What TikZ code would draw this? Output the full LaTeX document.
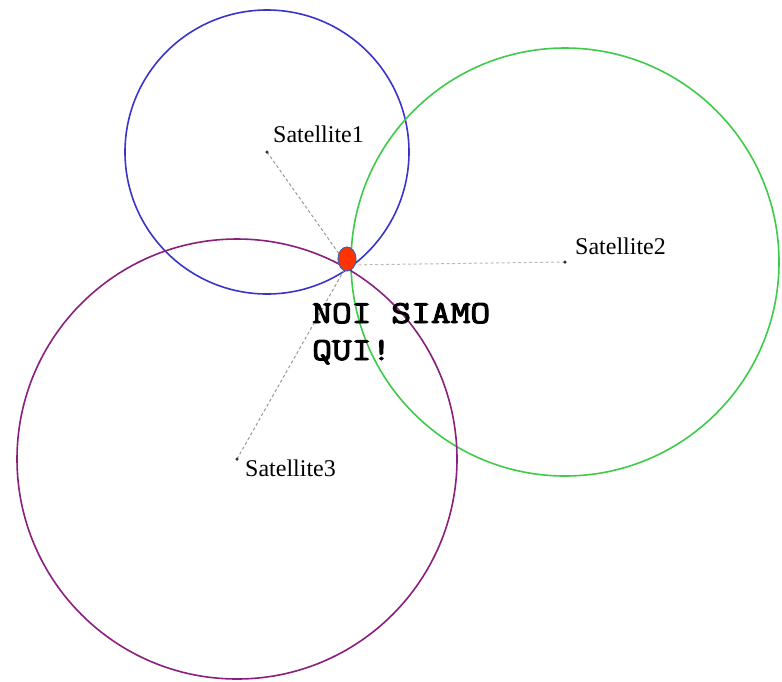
\documentclass[tikz,border=0pt]{standalone}
\usepackage{fontspec}
\setmainfont{Liberation Serif}
\newfontfamily\monob{Latin Modern Mono}[FakeBold=3]
\usetikzlibrary{shapes.geometric}
\definecolor{cblue}{HTML}{3A35C8}
\definecolor{cgreen}{HTML}{3FCB4A}
\definecolor{cpurple}{HTML}{8A1F7E}
\definecolor{dotred}{HTML}{FF3300}
\definecolor{dotedge}{HTML}{3F5FB0}
\newcommand{\heremono}[1]{\scalebox{1.2}[1]{\monob\fontsize{32}{37}\selectfont #1}}
\tikzset{
  orbit/.style={line width=1.6pt},
  satdot/.style={circle,fill=black!80,inner sep=0pt,minimum size=3.5pt},
  satlabel/.style={anchor=base west,inner sep=0pt,font=\fontsize{24}{28}\selectfont},
  rangeline/.style={gray!80,line width=1pt,dash pattern=on 3pt off 2.5pt},
  heretext/.style={anchor=base west,inner sep=0pt}
}
\begin{document}
\begin{tikzpicture}[x=1pt,y=-1pt]
\useasboundingbox (0,0) rectangle (782,681);
\fill[white] (0,0) rectangle (782,681);
% satellites
\coordinate (s1) at (267,152);
\coordinate (s2) at (565,262);
\coordinate (s3) at (237,459);
\coordinate (fix) at (347,265);
% circles
\draw[orbit,cblue] (s1) circle[radius=142];
\draw[orbit,cgreen] (s2) circle[radius=214];
\draw[orbit,cpurple] (s3) circle[radius=220];
% ranges
\draw[rangeline] (s1) -- (fix);
\draw[rangeline,gray!55] (s2) -- (fix);
\draw[rangeline] (s3) -- (fix);
% satellite dots and labels
\node[satdot] (d1) at (s1) {};
\node[satdot] (d2) at (s2) {};
\node[satdot] (d3) at (s3) {};
\node[satlabel] (l1) at (273,142) {Satellite1};
\node[satlabel] (l2) at (575,254) {Satellite2};
\node[satlabel] (l3) at (245,476) {Satellite3};
% position
\node[ellipse,fill=dotred,draw=dotedge,line width=1pt,minimum width=18pt,minimum height=24pt,inner sep=0pt] (me) at (347,259) {};
\node[heretext] (t1) at (312,323) {\heremono{NOI SIAMO}};
\node[heretext] (t2) at (312,360) {\heremono{QUI!}};
\end{tikzpicture}
\end{document}
